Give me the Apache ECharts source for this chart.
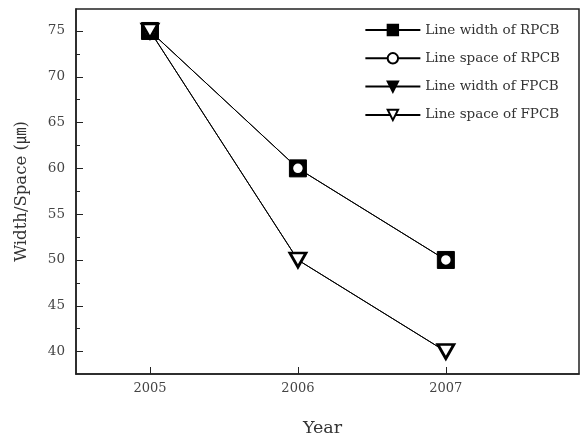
<!DOCTYPE html>
<html>
<head>
<meta charset="utf-8">
<script src="https://cdn.jsdelivr.net/npm/echarts@6/dist/echarts.min.js"></script>
<style>html,body{margin:0;padding:0;background:#fff}#c{width:580px;height:437px}</style>
</head>
<body>
<div id="c"></div>
<script>
var years = [2005, 2006, 2007];
var widthRPCB = [75, 60, 50];
var spaceRPCB = [75, 60, 50];
var widthFPCB = [75, 50, 40];
var spaceFPCB = [75, 50, 40];
var yMajorTicks = [40, 45, 50, 55, 60, 65, 70, 75];
var yMinorTicks = [42.5, 47.5, 52.5, 57.5, 62.5, 67.5, 72.5];
var seriesNames = ['Line width of RPCB', 'Line space of RPCB', 'Line width of FPCB', 'Line space of FPCB'];

function pairs(vals) { return years.map(function (y, i) { return [y, vals[i]]; }); }

var font = 'DejaVu Serif, serif';
var chart = echarts.init(document.getElementById('c'));
var lineStyle = { color: '#000', width: 1 };
chart.setOption({
  animation: false,
  backgroundColor: '#fff',
  grid: { left: 76, top: 9, right: 1, bottom: 63, outerBoundsMode: 'none', containLabel: false, show: true, borderColor: '#222', borderWidth: 1.5, backgroundColor: 'transparent' },
  legend: {
    orient: 'vertical', right: 15, top: 18, itemWidth: 55, itemHeight: 13, itemGap: 14.3,
    textStyle: { fontFamily: font, fontSize: 13.5, color: '#333' },
    data: seriesNames
  },
  xAxis: {
    type: 'value', min: 2004.5, max: 2007.9,
    name: 'Year', nameLocation: 'middle', nameGap: 45,
    nameTextStyle: { fontFamily: font, fontSize: 17.5, color: '#333', padding: [0, 10, 0, 0] },
    axisLine: { show: true, lineStyle: { color: '#222', width: 1.5 } },
    axisTick: { show: true, inside: true, length: 7, customValues: years, lineStyle: { color: '#222' } },
    axisLabel: { customValues: years, margin: 8, fontFamily: font, fontSize: 13, color: '#444', formatter: function (v) { return String(v); } },
    splitLine: { show: false }
  },
  yAxis: [{
    type: 'value', min: 37.55, max: 77.4,
    name: 'Width/Space (㎛)', nameLocation: 'middle', nameGap: 46, nameRotate: 90,
    nameTextStyle: { fontFamily: 'DejaVu Serif, Noto Sans CJK KR, serif', fontSize: 16.5, color: '#333' },
    axisLine: { show: true, lineStyle: { color: '#222', width: 1.5 } },
    axisTick: { show: true, inside: true, length: 7, customValues: yMajorTicks, lineStyle: { color: '#222' } },
    axisLabel: { customValues: yMajorTicks, margin: 11, fontFamily: font, fontSize: 13.5, color: '#444' },
    splitLine: { show: false }
  }, {
    type: 'value', min: 37.55, max: 77.4, position: 'left',
    axisLine: { show: false },
    axisTick: { show: true, inside: true, length: 4, customValues: yMinorTicks, lineStyle: { color: '#222' } },
    axisLabel: { show: false },
    splitLine: { show: false }
  }],
  series: [{
    name: seriesNames[0], type: 'line', data: pairs(widthRPCB),
    symbol: 'rect', symbolSize: 17, lineStyle: lineStyle,
    itemStyle: { color: '#000', borderColor: '#000', borderWidth: 1 }, z: 2
  }, {
    name: seriesNames[1], type: 'line', data: pairs(spaceRPCB),
    symbol: 'circle', symbolSize: 11, lineStyle: lineStyle,
    itemStyle: { color: '#fff', borderColor: '#000', borderWidth: 1.5 }, z: 3
  }, {
    name: seriesNames[2], type: 'line', data: pairs(widthFPCB),
    symbol: 'triangle', symbolRotate: 180, symbolSize: [16, 14], lineStyle: lineStyle,
    itemStyle: { color: '#000', borderColor: '#000', borderWidth: 1 }, z: 4
  }, {
    name: seriesNames[3], type: 'line', data: pairs(spaceFPCB),
    symbol: 'triangle', symbolRotate: 180, symbolSize: [16, 14], lineStyle: lineStyle,
    itemStyle: { color: '#fff', borderColor: '#000', borderWidth: 2.8 }, z: 5
  }]
});
</script>
</body>
</html>
